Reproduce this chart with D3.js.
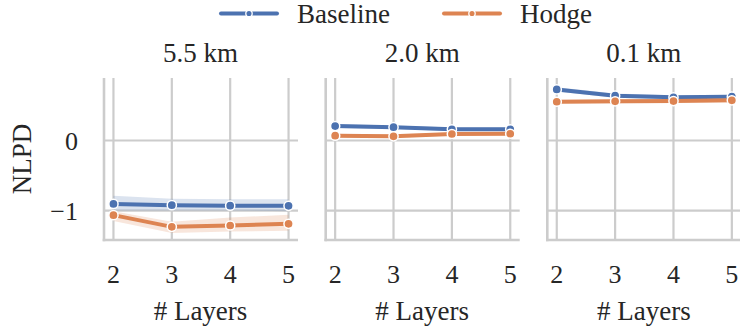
<!DOCTYPE html>
<html><head><meta charset="utf-8">
<script src="https://cdn.jsdelivr.net/npm/d3@7"></script>
<style>body{margin:0;background:#fff}svg{display:block}</style>
</head><body><svg id="c" width="740" height="327"></svg>
<script>
const layers = [2, 3, 4, 5];
const panels = ["5.5 km", "2.0 km", "0.1 km"];
const seriesNames = ["Baseline", "Hodge"];
const yTicks = [0, -1];
// mean values and interval bounds per panel
const baselineMean = [[-0.905, -0.923, -0.93, -0.933], [0.207, 0.19, 0.16, 0.16], [0.73, 0.64, 0.617, 0.626]];
const baselineLo   = [[-1.00, -1.00, -1.00, -1.01], [0.18, 0.165, 0.135, 0.135], [0.70, 0.61, 0.59, 0.60]];
const baselineHi   = [[-0.79, -0.83, -0.84, -0.84], [0.235, 0.215, 0.185, 0.185], [0.76, 0.67, 0.645, 0.655]];
const hodgeMean = [[-1.066, -1.233, -1.214, -1.19], [0.069, 0.06, 0.093, 0.097], [0.554, 0.56, 0.564, 0.574]];
const hodgeLo   = [[-1.15, -1.32, -1.30, -1.29], [0.045, 0.035, 0.07, 0.075], [0.525, 0.53, 0.535, 0.545]];
const hodgeHi   = [[-1.01, -1.16, -1.10, -1.06], [0.095, 0.085, 0.115, 0.12], [0.58, 0.585, 0.59, 0.6]];
const colors = ["#4c72b0", "#dd8452"];

const svg = d3.select("#c");
const plotTop = 78, plotBottom = 240;
const panelLeft = [104, 325.7, 547.3];
const panelW = 194;
const y = d3.scaleLinear().domain([-1.421, 0.893]).range([plotBottom, plotTop]);
const grid = "#cccccc";
const tc = "#262626";

const data = [
  {mean: baselineMean, lo: baselineLo, hi: baselineHi},
  {mean: hodgeMean, lo: hodgeLo, hi: hodgeHi}
];

function txt(sel, size) {
  return sel.attr("font-family", "Liberation Serif").attr("font-size", size).attr("fill", tc);
}

panels.forEach((title, p) => {
  const x = d3.scaleLinear().domain([1.838, 5.162]).range([panelLeft[p], panelLeft[p] + panelW]);
  const g = svg.append("g");
  g.selectAll(".vg").data(layers).enter().append("line")
    .attr("x1", d => x(d)).attr("x2", d => x(d)).attr("y1", plotTop).attr("y2", plotBottom)
    .attr("stroke", grid).attr("stroke-width", 2.2);
  g.selectAll(".hg").data(yTicks).enter().append("line")
    .attr("x1", panelLeft[p]).attr("x2", panelLeft[p] + panelW).attr("y1", d => y(d)).attr("y2", d => y(d))
    .attr("stroke", grid).attr("stroke-width", 2.2);
  g.append("line").attr("x1", panelLeft[p]).attr("x2", panelLeft[p]).attr("y1", plotTop).attr("y2", plotBottom + 1.25)
    .attr("stroke", grid).attr("stroke-width", 2.6);
  g.append("line").attr("x1", panelLeft[p] - 1.3).attr("x2", panelLeft[p] + panelW).attr("y1", plotBottom).attr("y2", plotBottom)
    .attr("stroke", grid).attr("stroke-width", 2.6);

  data.forEach((s, k) => {
    const pts = layers.map((l, i) => ({l, m: s.mean[p][i], lo: s.lo[p][i], hi: s.hi[p][i]}));
    g.append("path").datum(pts)
      .attr("d", d3.area().x(d => x(d.l)).y0(d => y(d.lo)).y1(d => y(d.hi)))
      .attr("fill", colors[k]).attr("fill-opacity", 0.2);
    g.append("path").datum(pts)
      .attr("d", d3.line().x(d => x(d.l)).y(d => y(d.m)))
      .attr("fill", "none").attr("stroke", colors[k]).attr("stroke-width", 4).attr("stroke-linecap", "round");
    g.selectAll(".pt" + k).data(pts).enter().append("circle")
      .attr("cx", d => x(d.l)).attr("cy", d => y(d.m)).attr("r", 4.6)
      .attr("fill", colors[k]).attr("stroke", "#fff").attr("stroke-width", 1.5);
  });

  txt(g.selectAll(".xt").data(layers).enter().append("text"), 26)
    .attr("x", d => x(d)).attr("y", 283).attr("text-anchor", "middle").text(d => d);
  txt(g.append("text"), 27).attr("x", panelLeft[p] + panelW / 2 - 0.5).attr("y", 320).attr("text-anchor", "middle")
    .text("# Layers");
  txt(g.append("text"), 27).attr("x", panelLeft[p] + panelW / 2 - 0.5).attr("y", 62).attr("text-anchor", "middle")
    .text(title);
  if (p === 0) {
    txt(g.selectAll(".yt").data(yTicks).enter().append("text"), 26)
      .attr("x", 78).attr("y", d => y(d) + 9).attr("text-anchor", "end")
      .text(d => d < 0 ? "\u2212" + Math.abs(d) : d);
  }
});

txt(svg.append("text"), 27).attr("transform", "translate(31,159) rotate(-90)").attr("text-anchor", "middle")
  .text("NLPD");

const legX = [221, 444];
seriesNames.forEach((n, k) => {
  const lg = svg.append("g");
  lg.append("line").attr("x1", legX[k]).attr("x2", legX[k] + 56).attr("y1", 13.5).attr("y2", 13.5)
    .attr("stroke", colors[k]).attr("stroke-width", 4).attr("stroke-linecap", "round");
  lg.append("circle").attr("cx", legX[k] + 28).attr("cy", 13.5).attr("r", 3.2)
    .attr("fill", colors[k]).attr("stroke", "#fff").attr("stroke-width", 1.3);
  txt(lg.append("text"), 27).attr("x", legX[k] + 76).attr("y", 23).text(n);
});
</script></body></html>
